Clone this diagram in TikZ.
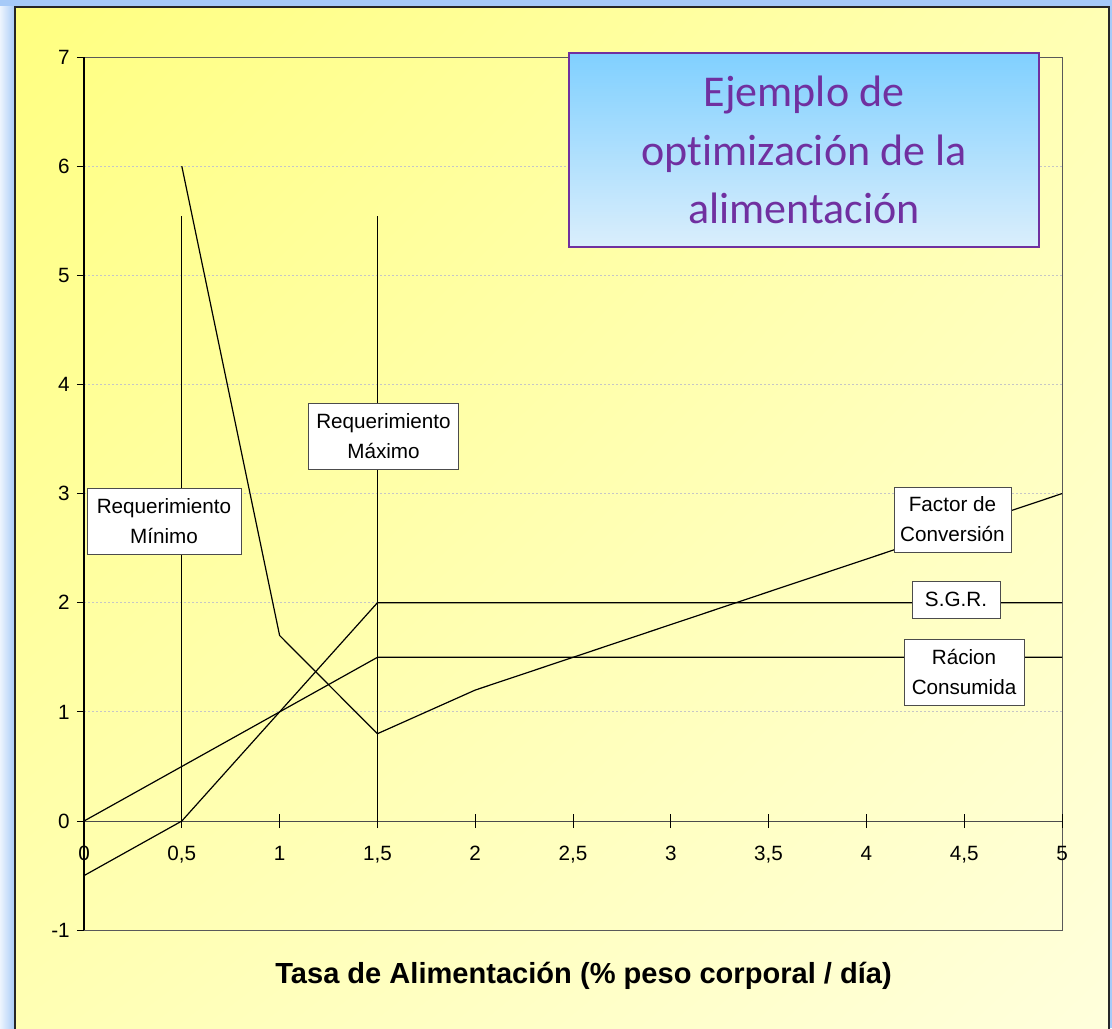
\documentclass[tikz,border=0pt]{standalone}
\usepackage{fontspec}
\setmainfont{Liberation Sans}
\newfontfamily\titlefont[Ligatures=NoCommon]{Carlito}
\usepackage{tikz}
\usetikzlibrary{positioning,calc,shadings}

\definecolor{bgblue}{HTML}{A6CAF8}
\definecolor{ylwA}{HTML}{FFFF80}
\definecolor{ylwB}{HTML}{FFFFB4}
\definecolor{ylwC}{HTML}{FFFFDC}
\definecolor{ttltop}{HTML}{80D0FF}
\definecolor{ttlbot}{HTML}{DAEEFC}
\definecolor{ttlpurple}{HTML}{7030A0}

\tikzset{
    labelbox/.style={draw=black!70, fill=white, line width=0.6pt, align=center, inner sep=0pt, font=\fontsize{15.5}{22.5}\selectfont},
    curve/.style={line width=0.9pt, black},
    gridline/.style={gray!45, dash pattern=on 1.5pt off 1.5pt, line width=0.6pt},
    ticklabel/.style={font=\fontsize{15.5}{18}\selectfont, inner sep=0pt}
}

\begin{document}
\begin{tikzpicture}[x=146.7pt, y=81.86pt]
    \useasboundingbox (-0.4295,-1.8967) rectangle (5.2556,7.5224);

    % Frame and background
    \fill[bgblue] (-0.4295,-1.8967) rectangle (5.2556,7.5224);
    \shade[left color=white!80!bgblue, right color=bgblue] (-0.4295,-1.8967) rectangle (-0.3528,7.4583);
    \shade[upper left=ylwA, upper right=ylwB, lower left=ylwB, lower right=ylwC] (-0.3528,-1.95) rectangle (5.2403,7.4583);
    \draw[line width=1.2pt, black!85] (-0.3528,-1.95) -- (-0.3528,7.4583) -- (5.2403,7.4583) -- (5.2403,-1.95);

    % Grid
    \draw[gridline] (0,1) -- (5,1) (0,2) -- (5,2) (0,3) -- (5,3) (0,4) -- (5,4) (0,5) -- (5,5) (0,6) -- (5,6);
    \draw[gray!70!black, line width=0.6pt] (0,-1) -- (5,-1) -- (5,7) -- (0,7);

    % Axes
    \draw[black, line width=0.8pt] (0,-1) -- (0,7);
    \draw[black!70, line width=0.8pt] (0,0) -- (5,0);
    \draw[black, line width=0.6pt] (-0.036,-1) -- (0,-1) (-0.036,0) -- (0,0) (-0.036,1) -- (0,1) (-0.036,2) -- (0,2)
        (-0.036,3) -- (0,3) (-0.036,4) -- (0,4) (-0.036,5) -- (0,5) (-0.036,6) -- (0,6) (-0.036,7) -- (0,7);
    \draw[black, line width=0.6pt] (0,-0.064) -- (0,0.064) (0.5,-0.064) -- (0.5,0.064) (1,-0.064) -- (1,0.064)
        (1.5,-0.064) -- (1.5,0.064) (2,-0.064) -- (2,0.064) (2.5,-0.064) -- (2.5,0.064) (3,-0.064) -- (3,0.064)
        (3.5,-0.064) -- (3.5,0.064) (4,-0.064) -- (4,0.064) (4.5,-0.064) -- (4.5,0.064) (5,-0.064) -- (5,0.064);

    % Y labels
    \node[ticklabel, anchor=east] (ym1) at (-0.0716,-1) {-1};
    \node[ticklabel, anchor=east] (y0) at (-0.0716,0) {0};
    \node[ticklabel, anchor=east] (y1) at (-0.0716,1) {1};
    \node[ticklabel, anchor=east] (y2) at (-0.0716,2) {2};
    \node[ticklabel, anchor=east] (y3) at (-0.0716,3) {3};
    \node[ticklabel, anchor=east] (y4) at (-0.0716,4) {4};
    \node[ticklabel, anchor=east] (y5) at (-0.0716,5) {5};
    \node[ticklabel, anchor=east] (y6) at (-0.0716,6) {6};
    \node[ticklabel, anchor=east] (y7) at (-0.0716,7) {7};

    % X labels
    \node[ticklabel, anchor=base] (x0) at (0,-0.357) {0};
    \node[ticklabel, anchor=base] (x05) at (0.5,-0.357) {0,5};
    \node[ticklabel, anchor=base] (x1) at (1,-0.357) {1};
    \node[ticklabel, anchor=base] (x15) at (1.5,-0.357) {1,5};
    \node[ticklabel, anchor=base] (x2) at (2,-0.357) {2};
    \node[ticklabel, anchor=base] (x25) at (2.5,-0.357) {2,5};
    \node[ticklabel, anchor=base] (x3) at (3,-0.357) {3};
    \node[ticklabel, anchor=base] (x35) at (3.5,-0.357) {3,5};
    \node[ticklabel, anchor=base] (x4) at (4,-0.357) {4};
    \node[ticklabel, anchor=base] (x45) at (4.5,-0.357) {4,5};
    \node[ticklabel, anchor=base] (x5) at (5,-0.357) {5};

    % Curves
    \draw[curve] (0.5,6) -- (1,1.7) -- (1.5,0.8) -- (2,1.2) -- (5,3);
    \draw[curve] (0,-0.5) -- (0.5,0) -- (1.5,2) -- (5,2);
    \draw[curve] (0,0) -- (1.5,1.5) -- (5,1.5);
    \draw[curve] (0.5,0) -- (0.5,5.543);
    \draw[curve] (1.5,0) -- (1.5,5.543);

    % Labels
    \node[labelbox, minimum width=115.5pt, minimum height=49.5pt] (reqmin) at (0.409,2.749) {Requerimiento\\Mínimo};
    \node[labelbox, minimum width=113pt, minimum height=49.5pt] (reqmax) at (1.531,3.528) {Requerimiento\\Máximo};
    \node[labelbox, minimum width=87.75pt, minimum height=48.75pt] (factor) at (4.440,2.763) {Factor de\\Conversión};
    \node[labelbox, minimum width=66pt, minimum height=27.75pt] (sgr) at (4.458,2.030) {S.G.R.};
    \node[labelbox, minimum width=90pt, minimum height=49.5pt] (racion) at (4.499,1.365) {Rácion\\Consumida};

    % Title
    \node[draw=ttlpurple, line width=1.5pt, top color=ttltop, bottom color=ttlbot, text=ttlpurple, align=center,
        minimum width=352pt, minimum height=145.5pt, inner sep=0pt, font=\titlefont\fontsize{33}{43.7}\selectfont]
        (title) at (3.681,6.148) {Ejemplo de\\opt\kern0pt imización de la\\alimentación};

    \node[font=\bfseries\fontsize{21.8}{26}\selectfont, anchor=base] (xtitle) at (2.554,-1.484) {Tasa de Alimentación (\% peso corporal / día)};
\end{tikzpicture}
\end{document}
